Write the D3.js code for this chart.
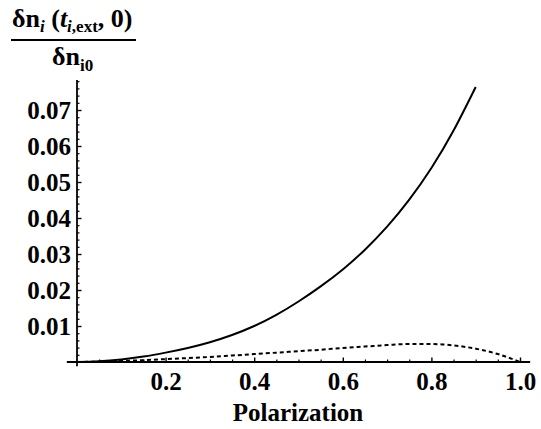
<!DOCTYPE html>
<html>
<head>
<meta charset="utf-8">
<script src="https://cdn.jsdelivr.net/npm/d3@7"></script>
<style>
  body { margin: 0; background: #fff; }
  svg { display: block; }
  .lbl { font-family: "Liberation Serif", "Times New Roman", serif; font-weight: bold; fill: #000; }
</style>
</head>
<body>
<svg width="541" height="429"></svg>
<script>
// polarization grid
var polar = [0, 0.05, 0.1, 0.15, 0.2, 0.25, 0.3, 0.35, 0.4, 0.45, 0.5,
             0.55, 0.6, 0.65, 0.7, 0.75, 0.8, 0.85, 0.9, 0.95, 1.0];
// solid curve (stops at 0.9)
var solidVals = [0, 0.0002, 0.0007, 0.0015, 0.0026, 0.0039, 0.0055, 0.0075, 0.0100, 0.0131, 0.0168,
                 0.0210, 0.0257, 0.0312, 0.0376, 0.0451, 0.0539, 0.0643, 0.0764];
// dashed curve
var dashedVals = [0, 0.0001, 0.0003, 0.0005, 0.0008, 0.0011, 0.0014, 0.0018, 0.0022, 0.0026, 0.0030,
                  0.0034, 0.0039, 0.0043, 0.0047, 0.0050, 0.0050, 0.0046, 0.0037, 0.0022, 0];
var xMajor = [0.2, 0.4, 0.6, 0.8, 1.0];
var yMajor = [0.01, 0.02, 0.03, 0.04, 0.05, 0.06, 0.07];

var svg = d3.select("svg");

var x = d3.scaleLinear().domain([0, 1]).range([77, 520]);
var y = d3.scaleLinear().domain([0, 0.01]).range([362, 326]);

var xMinor = d3.range(1, 21).map(function(i){ return i * 0.05; })
  .filter(function(v){ return xMajor.every(function(m){ return Math.abs(m - v) > 1e-6; }); });
var yMinor = d3.range(1, 40).map(function(i){ return i * 0.002; })
  .filter(function(v){ return y(v) >= 80 && yMajor.every(function(m){ return Math.abs(m - v) > 1e-6; }); });

// minor ticks
svg.append("g").attr("transform", "translate(0," + y(0) + ")")
  .call(d3.axisBottom(x).tickValues(xMinor).tickFormat("").tickSize(-2.5).tickSizeOuter(0))
  .call(function(g){ g.select(".domain").remove(); g.selectAll("line").attr("stroke-width", 1.2); });
svg.append("g").attr("transform", "translate(" + x(0) + ",0)")
  .call(d3.axisLeft(y).tickValues(yMinor).tickFormat("").tickSize(-2.5).tickSizeOuter(0))
  .call(function(g){ g.select(".domain").remove(); g.selectAll("line").attr("stroke-width", 1.2); });

// major ticks + labels
var gx = svg.append("g").attr("transform", "translate(0," + y(0) + ")")
  .call(d3.axisBottom(x).tickValues(xMajor).tickFormat(d3.format(".1f")).tickSize(-4.5).tickPadding(10))
  .call(function(g){ g.select(".domain").remove(); g.selectAll("line").attr("stroke-width", 1.4); });
gx.selectAll("text").attr("class", "lbl").attr("font-size", 25).attr("font-family", null);

var gy = svg.append("g").attr("transform", "translate(" + x(0) + ",0)")
  .call(d3.axisLeft(y).tickValues(yMajor).tickFormat(d3.format(".2f")).tickSize(-4.5).tickPadding(6))
  .call(function(g){ g.select(".domain").remove(); g.selectAll("line").attr("stroke-width", 1.4); });
gy.selectAll("text").attr("class", "lbl").attr("font-size", 25).attr("font-family", null);

// axis lines
svg.append("line").attr("x1", x(-0.023)).attr("x2", x(1.023)).attr("y1", y(0)).attr("y2", y(0))
  .attr("stroke", "#000").attr("stroke-width", 1.8);
svg.append("line").attr("x1", x(0)).attr("x2", x(0)).attr("y1", y(-0.0012)).attr("y2", 80)
  .attr("stroke", "#000").attr("stroke-width", 1.8);

// curves
var line = d3.line().x(function(d){ return x(d[0]); }).y(function(d){ return y(d[1]); });

svg.append("path")
  .datum(solidVals.map(function(v, i){ return [polar[i], v]; }))
  .attr("d", line.curve(d3.curveNatural)).attr("fill", "none").attr("stroke", "#000").attr("stroke-width", 2);

svg.append("path")
  .datum(dashedVals.map(function(v, i){ return [polar[i], v]; }))
  .attr("d", line.curve(d3.curveMonotoneX)).attr("fill", "none").attr("stroke", "#000").attr("stroke-width", 2)
  .attr("stroke-dasharray", "4,3");

// x title
svg.append("text").attr("class", "lbl").attr("x", 298).attr("y", 421)
  .attr("text-anchor", "middle").attr("font-size", 25).text("Polarization");

// y title as a fraction
var num = svg.append("text").attr("class", "lbl").attr("x", 12).attr("y", 27).attr("font-size", 26);
num.append("tspan").text("\u03b4n");
num.append("tspan").attr("font-style", "italic").attr("font-size", 17).attr("dy", 5).text("i");
num.append("tspan").attr("dy", -5).text(" (");
num.append("tspan").attr("font-style", "italic").text("t");
num.append("tspan").attr("font-size", 17).attr("dy", 5)
  .html('<tspan font-style="italic">i</tspan>,ext');
num.append("tspan").attr("dy", -5).text(", 0)");

svg.append("line").attr("x1", 11).attr("x2", 136).attr("y1", 40).attr("y2", 40)
  .attr("stroke", "#000").attr("stroke-width", 2);

var den = svg.append("text").attr("class", "lbl").attr("x", 52).attr("y", 65).attr("font-size", 26);
den.append("tspan").text("\u03b4n");
den.append("tspan").attr("font-size", 17).attr("dy", 6).text("i0");
</script>
</body>
</html>
